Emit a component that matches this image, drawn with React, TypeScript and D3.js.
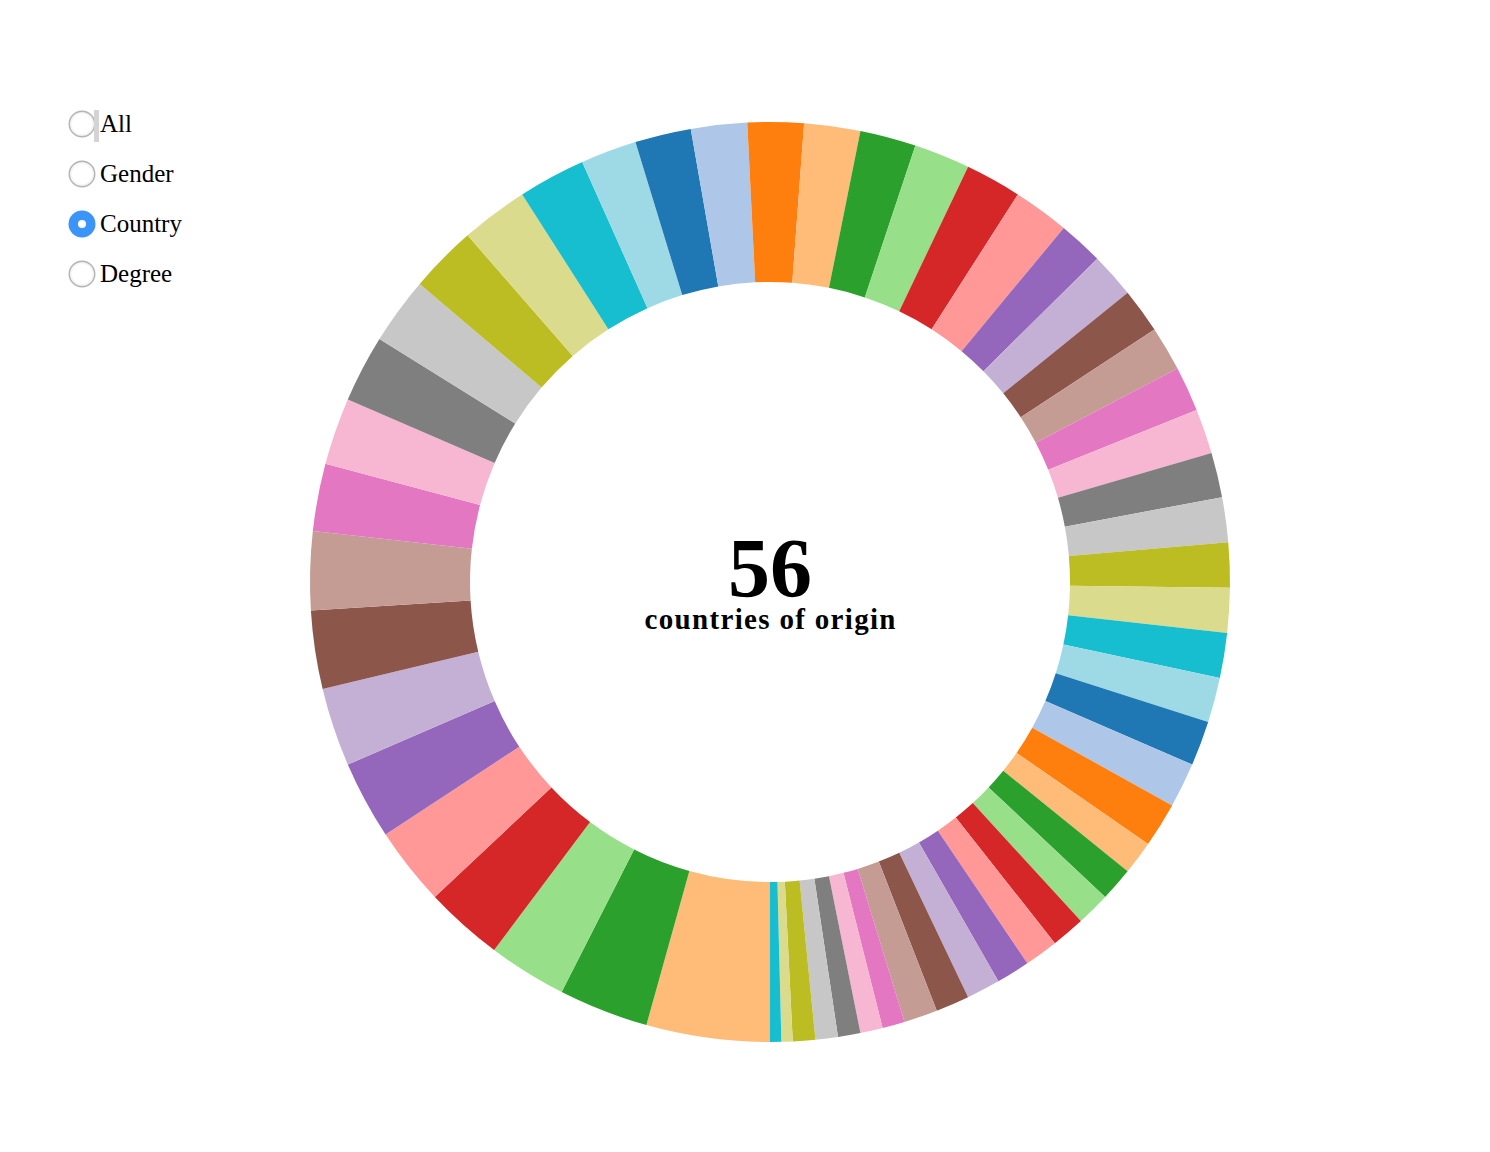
import React, { useEffect, useRef } from "react";
import * as d3 from "d3";

// Students per country of origin (56 countries), sorted descending
const countryCounts: number[] = [
  11, 8, 7, 7, 7, 7, 7, 7, 7,
  6, 6, 6, 6, 6, 6, 6,
  5, 5, 5, 5, 5, 5, 5, 5, 5,
  4, 4, 4, 4, 4, 4, 4, 4, 4, 4, 4, 4, 4, 4, 4,
  3, 3, 3, 3, 3, 3, 3, 3, 3,
  2, 2, 2, 2, 2,
  1, 1,
];
const countryLabels: string[] = countryCounts.map((_, i) => `Country ${i + 1}`);

const radioOptions: string[] = ["All", "Gender", "Country", "Degree"];
const selectedOption = "Country";
const centerNumber = "56";
const centerCaption = "countries of origin";

const category20: string[] = [
  "#1f77b4", "#aec7e8", "#ff7f0e", "#ffbb78", "#2ca02c", "#98df8a",
  "#d62728", "#ff9896", "#9467bd", "#c5b0d5", "#8c564b", "#c49c94",
  "#e377c2", "#f7b6d2", "#7f7f7f", "#c7c7c7", "#bcbd22", "#dbdb8d",
  "#17becf", "#9edae5",
];
// three colors already consumed by earlier categories
const colorOffset = 3;

const W = 1490;
const H = 1152;
const CX = 770;
const CY = 582;
const R_OUT = 460;
const R_IN = 300;
const FONT = "'Liberation Serif', 'DejaVu Serif', serif";

export default function App() {
  const ref = useRef<SVGSVGElement | null>(null);

  useEffect(() => {
    const svg = d3.select(ref.current);
    svg.selectAll("*").remove();

    const color = d3
      .scaleOrdinal<number, string>()
      .domain(d3.range(20))
      .range(category20);

    const data = countryCounts.map((v, i) => ({ label: countryLabels[i], value: v, i }));
    const pie = d3
      .pie<any>()
      .sort(null)
      .value((d) => d.value)
      .startAngle(Math.PI)
      .endAngle(3 * Math.PI);
    const arc = d3.arc<any>().innerRadius(R_IN).outerRadius(R_OUT);

    const g = svg.append("g").attr("transform", `translate(${CX},${CY})`);
    g.selectAll("path")
      .data(pie(data))
      .enter()
      .append("path")
      .attr("d", arc)
      .attr("fill", (d: any) => color((d.data.i + colorOffset) % 20));

    g.append("text")
      .attr("x", 0)
      .attr("y", 15)
      .attr("text-anchor", "middle")
      .attr("font-family", FONT)
      .attr("font-weight", "bold")
      .attr("font-size", 84)
      .attr("fill", "#000")
      .text(centerNumber);

    g.append("text")
      .attr("x", 0)
      .attr("y", 47)
      .attr("text-anchor", "middle")
      .attr("font-family", FONT)
      .attr("font-weight", "bold")
      .attr("font-size", 29)
      .attr("textLength", 251)
      .attr("lengthAdjust", "spacing")
      .attr("fill", "#000")
      .text(centerCaption);

    // Radio buttons
    const defs = svg.append("defs");
    const grad = defs
      .append("radialGradient")
      .attr("id", "radioGrad")
      .attr("cx", "50%")
      .attr("cy", "50%")
      .attr("r", "50%");
    grad.append("stop").attr("offset", "75%").attr("stop-color", "#ffffff");
    grad.append("stop").attr("offset", "100%").attr("stop-color", "#e6e6e6");

    const radios = svg.append("g");
    radioOptions.forEach((opt, k) => {
      const y = 124 + k * 50;
      const sel = opt === selectedOption;
      if (sel) {
        radios.append("circle").attr("cx", 82).attr("cy", y).attr("r", 13.5).attr("fill", "#3b95f8");
        radios.append("circle").attr("cx", 82).attr("cy", y).attr("r", 4).attr("fill", "#ffffff");
      } else {
        radios
          .append("circle")
          .attr("cx", 82)
          .attr("cy", y)
          .attr("r", 12.8)
          .attr("fill", "url(#radioGrad)")
          .attr("stroke", "#b5b5b5")
          .attr("stroke-width", 1.4);
      }
      radios
        .append("text")
        .attr("x", 100)
        .attr("y", y + 8)
        .attr("font-family", FONT)
        .attr("font-size", 25)
        .attr("fill", "#000")
        .text(opt);
    });
    // caret / focus mark next to the first option
    radios
      .append("rect")
      .attr("x", 94)
      .attr("y", 110)
      .attr("width", 5)
      .attr("height", 32)
      .attr("fill", "#d4d4d4");
  }, []);

  return (
    <svg
      ref={ref}
      width={W}
      height={H}
      style={{ position: "absolute", left: 0, top: 0, display: "block", background: "#fff" }}
    />
  );
}
